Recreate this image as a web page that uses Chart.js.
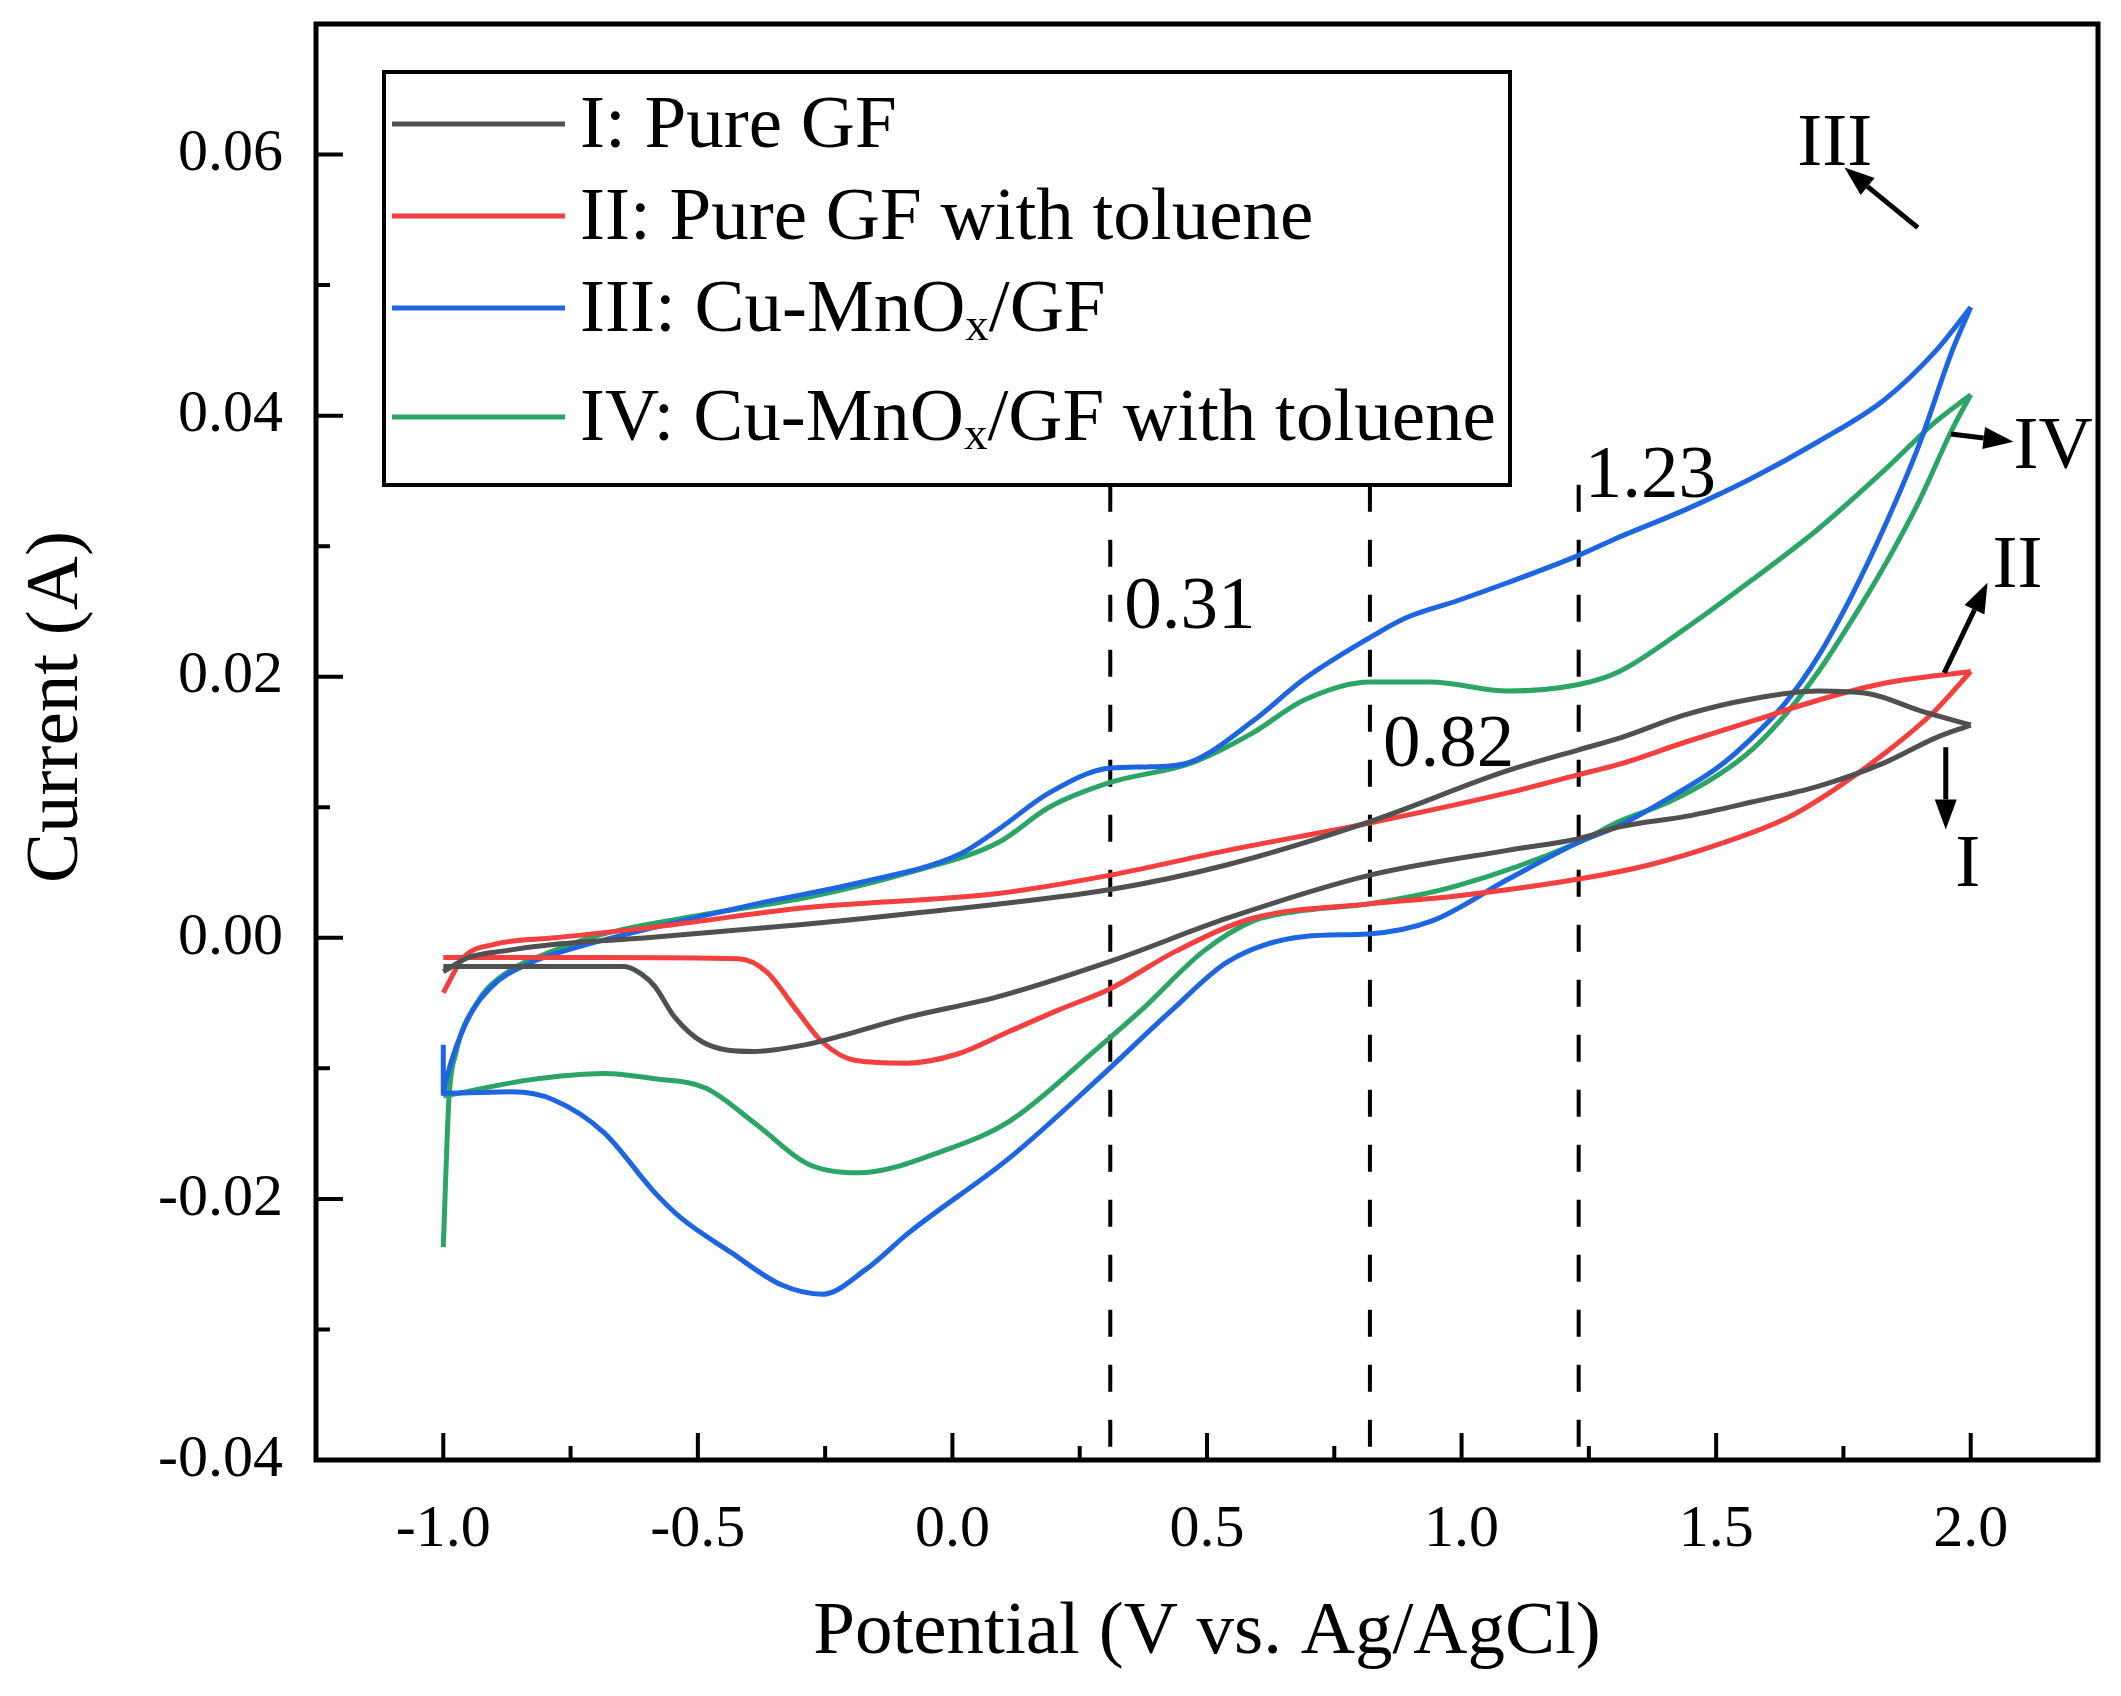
<!DOCTYPE html>
<html>
<head>
<meta charset="utf-8">
<title>CV curves</title>
<script src="https://cdn.jsdelivr.net/npm/chart.js@4.4.0/dist/chart.umd.min.js"></script>
<style>
    html, body { margin: 0; padding: 0; background: #fff; }
    #wrap { width: 2121px; height: 1696px; }
</style>
</head>
<body>
<div id="wrap"><canvas id="cvChart" width="2121" height="1696"></canvas></div>
<script>
// axis ticks
var xTicks = [-1.0, -0.5, 0.0, 0.5, 1.0, 1.5, 2.0];
var xMinor = [-0.75, -0.25, 0.25, 0.75, 1.25, 1.75];
var yTicks = [-0.04, -0.02, 0.00, 0.02, 0.04, 0.06];
var yMinor = [-0.03, -0.01, 0.01, 0.03, 0.05];

var seriesLabels = ['I: Pure GF', 'II: Pure GF with toluene', 'III: Cu-MnOₓ/GF', 'IV: Cu-MnOₓ/GF with toluene'];
var seriesColors = ['#505050', '#f43f3f', '#1d65e1', '#2aa566'];

// I: Pure GF  (forward / reverse sweep)
var vFwdI = [-1.0, -0.95, -0.88, -0.78, -0.6, -0.3, 0.0, 0.31, 0.54, 0.82, 1.09, 1.23, 1.31, 1.44, 1.57, 1.70, 1.80, 1.90, 2.0];
var iFwdI = [-0.0026, -0.0015, -0.001, -0.0005, 0.0, 0.001, 0.0022, 0.0037, 0.0056, 0.0089, 0.0128, 0.0144, 0.0153, 0.0171, 0.0183, 0.0189, 0.0187, 0.0174, 0.0163];
var vRevI = [2.0, 1.93, 1.83, 1.70, 1.57, 1.44, 1.31, 1.23, 1.09, 0.82, 0.54, 0.31, 0.09, -0.09, -0.19, -0.29, -0.39, -0.49, -0.545, -0.585, -0.61, -0.645, -0.8, -1.0];
var iRevI = [0.0163, 0.0153, 0.0134, 0.0116, 0.0104, 0.0093, 0.0085, 0.0076, 0.0067, 0.0048, 0.0015, -0.0018, -0.0045, -0.0061, -0.0072, -0.0082, -0.0087, -0.008, -0.0061, -0.0037, -0.0028, -0.0022, -0.0022, -0.0022];

// II: Pure GF with toluene
var vFwdII = [-1.0, -0.96, -0.9, -0.78, -0.59, -0.29, 0.09, 0.31, 0.54, 0.82, 1.09, 1.23, 1.31, 1.44, 1.57, 1.70, 1.83, 2.0];
var iFwdII = [-0.0042, -0.0015, -0.0005, 0.0, 0.0008, 0.0023, 0.0034, 0.0048, 0.0067, 0.0088, 0.0111, 0.0125, 0.0133, 0.015, 0.0166, 0.0182, 0.0195, 0.0204];
var vRevII = [2.0, 1.93, 1.83, 1.73, 1.64, 1.5, 1.37, 1.23, 0.99, 0.82, 0.59, 0.44, 0.31, 0.21, 0.11, 0.01, -0.09, -0.19, -0.255, -0.305, -0.365, -0.42, -0.7, -1.0];
var iRevII = [0.0204, 0.0174, 0.0141, 0.0113, 0.0092, 0.0071, 0.0056, 0.0045, 0.0032, 0.0026, 0.0015, -0.001, -0.0039, -0.0055, -0.0072, -0.0089, -0.0096, -0.0094, -0.008, -0.0056, -0.0026, -0.0016, -0.0015, -0.0015];

// III: Cu-MnOx/GF
var vFwdIII = [-1.0, -1.0, -0.994, -0.954, -0.904, -0.834, -0.735, -0.585, -0.385, -0.186, 0.014, 0.09, 0.19, 0.31, 0.39, 0.47, 0.59, 0.69, 0.82, 0.89, 0.99, 1.09, 1.23, 1.31, 1.44, 1.57, 1.70, 1.83, 1.93, 2.0];
var iFwdIII = [-0.0082, -0.0119, -0.0108, -0.0064, -0.0037, -0.002, -0.0007, 0.0008, 0.0026, 0.0042, 0.0064, 0.0083, 0.0111, 0.013, 0.0131, 0.0135, 0.0166, 0.0198, 0.023, 0.0245, 0.0258, 0.0272, 0.0293, 0.0307, 0.0328, 0.0352, 0.038, 0.0412, 0.0449, 0.0483];
var vRevIII = [2.0, 1.963, 1.898, 1.832, 1.766, 1.701, 1.636, 1.57, 1.505, 1.407, 1.31, 1.229, 1.092, 0.942, 0.817, 0.692, 0.542, 0.432, 0.281, 0.114, -0.086, -0.17, -0.255, -0.335, -0.435, -0.535, -0.585, -0.685, -0.784, -0.864, -0.994, -1.0];
var iRevIII = [0.0483, 0.0449, 0.0377, 0.0316, 0.0262, 0.0216, 0.018, 0.0153, 0.0131, 0.0107, 0.0086, 0.0073, 0.0045, 0.0013, 0.0003, 0.0001, -0.0018, -0.0055, -0.011, -0.0168, -0.0226, -0.0254, -0.0273, -0.0266, -0.0241, -0.0214, -0.0195, -0.0149, -0.0124, -0.0118, -0.0119, -0.0119];

// IV: Cu-MnOx/GF with toluene
var vFwdIV = [-1.0, -0.989, -0.975, -0.934, -0.884, -0.784, -0.685, -0.485, -0.285, -0.086, 0.09, 0.19, 0.31, 0.47, 0.59, 0.69, 0.82, 0.94, 1.09, 1.23, 1.31, 1.44, 1.57, 1.70, 1.83, 1.93, 2.0];
var iFwdIV = [-0.0237, -0.0124, -0.0088, -0.005, -0.0029, -0.001, 0.0003, 0.0018, 0.0031, 0.005, 0.0073, 0.01, 0.0119, 0.0134, 0.0157, 0.0182, 0.0196, 0.0196, 0.0189, 0.0194, 0.0204, 0.0237, 0.0274, 0.0313, 0.0358, 0.0395, 0.0416];
var vRevIV = [2.0, 1.963, 1.898, 1.832, 1.766, 1.701, 1.636, 1.57, 1.505, 1.407, 1.309, 1.229, 0.992, 0.817, 0.692, 0.591, 0.494, 0.372, 0.281, 0.114, -0.01, -0.186, -0.285, -0.385, -0.485, -0.585, -0.685, -0.834, -0.984, -1.0];
var iRevIV = [0.0416, 0.0389, 0.0334, 0.0286, 0.0243, 0.0204, 0.0171, 0.0144, 0.0125, 0.0104, 0.0089, 0.0073, 0.004, 0.0026, 0.0021, 0.0013, -0.001, -0.0055, -0.0086, -0.014, -0.0162, -0.018, -0.0173, -0.0143, -0.0115, -0.0108, -0.0104, -0.0109, -0.012, -0.0121];

// marked potentials (dashed lines) and their labels
var markV = [0.31, 0.82, 1.23];
var markTop = 0.0347;
var markLabelI = [0.0237, 0.01315, 0.03375];

// curve pointers: label, tail, head, text position
var pointerText = ['III', 'IV', 'II', 'I'];
var pointerFrom = [[1.896, 0.0544], [1.961, 0.0386], [1.948, 0.0203], [1.951, 0.0146]];
var pointerTo = [[1.752, 0.059], [2.084, 0.038], [2.033, 0.0272], [1.951, 0.0083]];
var pointerTextAt = [[1.733, 0.0592], [2.084, 0.036], [2.043, 0.0269], [1.994, 0.004]];
var pointerAlign = ['center', 'left', 'left', 'center'];

var serif = "'Liberation Serif', 'Times New Roman', serif";

function branch(label, color, v, cur, inLegend) {
    return {
        label: label,
        data: v.map(function (x, k) { return { x: x, y: cur[k] }; }),
        borderColor: color,
        backgroundColor: color,
        borderWidth: 5,
        pointRadius: 0,
        showLine: true,
        fill: false,
        cubicInterpolationMode: 'monotone',
        inLegend: inLegend
    };
}

var datasets = [
    branch(seriesLabels[0], seriesColors[0], vFwdI, iFwdI, true),
    branch(seriesLabels[0], seriesColors[0], vRevI, iRevI, false),
    branch(seriesLabels[1], seriesColors[1], vFwdII, iFwdII, true),
    branch(seriesLabels[1], seriesColors[1], vRevII, iRevII, false),
    branch(seriesLabels[2], seriesColors[2], vFwdIII, iFwdIII, true),
    branch(seriesLabels[2], seriesColors[2], vRevIII, iRevIII, false),
    branch(seriesLabels[3], seriesColors[3], vFwdIV, iFwdIV, true),
    branch(seriesLabels[3], seriesColors[3], vRevIV, iRevIV, false)
];

function drawLabel(ctx, text, x, y, size) {
    // draws "ₓ" as a lowered small x
    var parts = text.split('ₓ');
    var cx = x;
    for (var k = 0; k < parts.length; k++) {
        ctx.font = size + 'px ' + serif;
        ctx.fillText(parts[k], cx, y);
        cx += ctx.measureText(parts[k]).width;
        if (k < parts.length - 1) {
            ctx.font = Math.round(size * 0.62) + 'px ' + serif;
            ctx.fillText('x', cx, y + size * 0.22);
            cx += ctx.measureText('x').width;
        }
    }
}

function arrow(ctx, x1, y1, x2, y2) {
    var ang = Math.atan2(y2 - y1, x2 - x1);
    var len = 30, half = 11;
    var bx = x2 - len * Math.cos(ang), by = y2 - len * Math.sin(ang);
    ctx.beginPath();
    ctx.moveTo(x1, y1);
    ctx.lineTo(bx, by);
    ctx.stroke();
    ctx.beginPath();
    ctx.moveTo(x2, y2);
    ctx.lineTo(bx + half * Math.sin(ang), by - half * Math.cos(ang));
    ctx.lineTo(bx - half * Math.sin(ang), by + half * Math.cos(ang));
    ctx.closePath();
    ctx.fill();
}

var decor = {
    id: 'cvDecor',
    beforeDatasetsDraw: function (chart) {
        var ctx = chart.ctx, xs = chart.scales.x, ys = chart.scales.y, area = chart.chartArea;
        ctx.save();
        ctx.strokeStyle = '#000';
        ctx.lineWidth = 4;
        ctx.setLineDash([27, 28]);
        markV.forEach(function (v) {
            var px = xs.getPixelForValue(v);
            ctx.beginPath();
            ctx.moveTo(px, ys.getPixelForValue(markTop));
            ctx.lineTo(px, area.bottom);
            ctx.stroke();
        });
        ctx.restore();
    },
    afterDraw: function (chart) {
        var ctx = chart.ctx, xs = chart.scales.x, ys = chart.scales.y, area = chart.chartArea;
        ctx.save();
        ctx.strokeStyle = '#000';
        ctx.fillStyle = '#000';

        // frame
        ctx.lineWidth = 5;
        ctx.strokeRect(area.left, area.top, area.right - area.left, area.bottom - area.top);

        // inward ticks
        ctx.lineWidth = 4;
        ctx.beginPath();
        xTicks.forEach(function (v) { var p = xs.getPixelForValue(v); ctx.moveTo(p, area.bottom); ctx.lineTo(p, area.bottom - 27); });
        xMinor.forEach(function (v) { var p = xs.getPixelForValue(v); ctx.moveTo(p, area.bottom); ctx.lineTo(p, area.bottom - 14); });
        yTicks.forEach(function (v) { var p = ys.getPixelForValue(v); ctx.moveTo(area.left, p); ctx.lineTo(area.left + 27, p); });
        yMinor.forEach(function (v) { var p = ys.getPixelForValue(v); ctx.moveTo(area.left, p); ctx.lineTo(area.left + 14, p); });
        ctx.stroke();

        // y axis title, centred where the original puts it
        ctx.save();
        ctx.translate(77, (area.top + area.bottom) / 2 - 35);
        ctx.rotate(-Math.PI / 2);
        ctx.font = '75px ' + serif;
        ctx.textAlign = 'center';
        ctx.textBaseline = 'alphabetic';
        ctx.fillText('Current (A)', 0, 0);
        ctx.restore();

        // dashed line labels
        ctx.font = '75px ' + serif;
        ctx.textBaseline = 'alphabetic';
        ctx.textAlign = 'left';
        var offs = [14, 13, 6];
        markV.forEach(function (v, k) {
            ctx.fillText(v.toFixed(2), xs.getPixelForValue(v) + offs[k], ys.getPixelForValue(markLabelI[k]));
        });

        // pointers
        ctx.lineWidth = 5;
        pointerText.forEach(function (t, k) {
            arrow(ctx, xs.getPixelForValue(pointerFrom[k][0]), ys.getPixelForValue(pointerFrom[k][1]),
                xs.getPixelForValue(pointerTo[k][0]), ys.getPixelForValue(pointerTo[k][1]));
            ctx.textAlign = pointerAlign[k];
            ctx.fillText(t, xs.getPixelForValue(pointerTextAt[k][0]), ys.getPixelForValue(pointerTextAt[k][1]));
        });

        // legend box
        var lx = area.left + 68, ly = area.top + 48, lw = 1126, lh = 413;
        ctx.fillStyle = '#fff';
        ctx.fillRect(lx, ly, lw, lh);
        ctx.lineWidth = 4;
        ctx.strokeRect(lx, ly, lw, lh);
        var rowY = [52, 144, 236, 345];
        var k = 0;
        ctx.textAlign = 'left';
        ctx.textBaseline = 'middle';
        chart.data.datasets.forEach(function (ds) {
            if (!ds.inLegend) return;
            var y = ly + rowY[k];
            ctx.strokeStyle = ds.borderColor;
            ctx.lineWidth = 5;
            ctx.beginPath();
            ctx.moveTo(lx + 8, y);
            ctx.lineTo(lx + 181, y);
            ctx.stroke();
            ctx.fillStyle = '#000';
            drawLabel(ctx, ds.label, lx + 196, y + 3, 75);
            k++;
        });
        ctx.restore();
    }
};

new Chart(document.getElementById('cvChart'), {
    type: 'scatter',
    data: { datasets: datasets },
    options: {
        responsive: false,
        devicePixelRatio: 1,
        animation: false,
        events: [],
        layout: { padding: { left: 0, top: 24, right: 23, bottom: 0 } },
        plugins: {
            legend: { display: false },
            tooltip: { enabled: false }
        },
        scales: {
            x: {
                type: 'linear',
                min: -1.25,
                max: 2.25,
                afterBuildTicks: function (s) { s.ticks = xTicks.map(function (v) { return { value: v }; }); },
                afterFit: function (s) { s.height = 236; s.paddingLeft = 0; s.paddingRight = 0; },
                grid: { display: false, drawTicks: false },
                border: { display: false },
                ticks: {
                    color: '#000',
                    font: { family: serif, size: 60 },
                    padding: 34,
                    maxRotation: 0,
                    autoSkip: false,
                    callback: function (v) { return Number(v).toFixed(1); }
                },
                title: {
                    display: true,
                    text: 'Potential (V vs. Ag/AgCl)',
                    color: '#000',
                    font: { family: serif, size: 75 },
                    padding: { top: 0, bottom: 18 }
                }
            },
            y: {
                type: 'linear',
                min: -0.04,
                max: 0.07,
                afterBuildTicks: function (s) { s.ticks = yTicks.map(function (v) { return { value: v }; }); },
                afterFit: function (s) { s.width = 316; s.paddingTop = 0; s.paddingBottom = 0; },
                grid: { display: false, drawTicks: false },
                border: { display: false },
                ticks: {
                    color: '#000',
                    font: { family: serif, size: 60 },
                    padding: 33,
                    autoSkip: false,
                    callback: function (v) { return Number(v).toFixed(2); }
                },
                title: { display: false }
            }
        }
    },
    plugins: [decor]
});
</script>
</body>
</html>
